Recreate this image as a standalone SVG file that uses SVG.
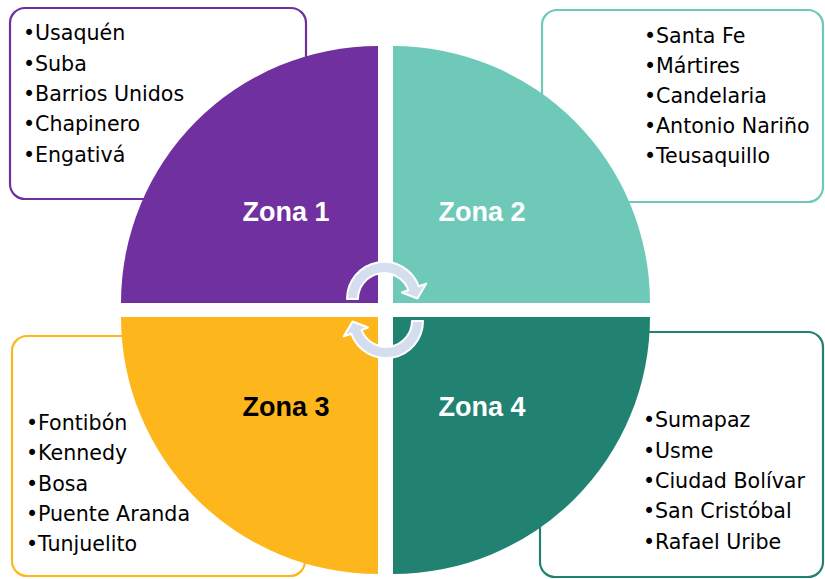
<svg xmlns="http://www.w3.org/2000/svg" width="825" height="579" viewBox="0 0 825 579">
<style>
.box{fill:#fff;stroke-width:2.2}
.lst{font-family:"Century Gothic","DejaVu Sans",sans-serif;font-size:20.6px;fill:#000}
.zona{font-family:"Liberation Sans",Arial,sans-serif;font-weight:bold;font-size:27px;text-anchor:middle}
.arr{fill:#D5DEEF;stroke:#fff;stroke-width:2;stroke-linejoin:round}
</style>
<rect width="825" height="579" fill="#fff"/>
<g id="box1"><rect class="box" x="10" y="8" width="296" height="191" rx="15" stroke="#7030A0"/>
<text class="lst"><tspan x="23" y="40">•</tspan><tspan x="35" y="40">Usaquén</tspan><tspan x="23" y="71">•</tspan><tspan x="35" y="71">Suba</tspan><tspan x="23" y="101">•</tspan><tspan x="35" y="101">Barrios Unidos</tspan><tspan x="23" y="131">•</tspan><tspan x="35" y="131">Chapinero</tspan><tspan x="23" y="162">•</tspan><tspan x="35" y="162">Engativá</tspan></text></g>
<g id="box2"><rect class="box" x="542" y="10" width="281" height="192" rx="15" stroke="#6FC9B9"/>
<text class="lst"><tspan x="644" y="43">•</tspan><tspan x="656" y="43">Santa Fe</tspan><tspan x="644" y="73">•</tspan><tspan x="656" y="73">Mártires</tspan><tspan x="644" y="103">•</tspan><tspan x="656" y="103">Candelaria</tspan><tspan x="644" y="133">•</tspan><tspan x="656" y="133">Antonio Nariño</tspan><tspan x="644" y="163">•</tspan><tspan x="656" y="163">Teusaquillo</tspan></text></g>
<g id="box3"><rect class="box" x="12" y="336" width="293" height="240" rx="15" stroke="#FDB71C"/>
<text class="lst"><tspan x="26" y="430">•</tspan><tspan x="38" y="430">Fontibón</tspan><tspan x="26" y="460">•</tspan><tspan x="38" y="460">Kennedy</tspan><tspan x="26" y="491">•</tspan><tspan x="38" y="491">Bosa</tspan><tspan x="26" y="521">•</tspan><tspan x="38" y="521">Puente Aranda</tspan><tspan x="26" y="551">•</tspan><tspan x="38" y="551">Tunjuelito</tspan></text></g>
<g id="box4"><rect class="box" x="540" y="332" width="283" height="245" rx="15" stroke="#228272"/>
<text class="lst"><tspan x="643" y="427">•</tspan><tspan x="655" y="427">Sumapaz</tspan><tspan x="643" y="458">•</tspan><tspan x="655" y="458">Usme</tspan><tspan x="643" y="488">•</tspan><tspan x="655" y="488">Ciudad Bolívar</tspan><tspan x="643" y="518">•</tspan><tspan x="655" y="518">San Cristóbal</tspan><tspan x="643" y="549">•</tspan><tspan x="655" y="549">Rafael Uribe</tspan></text></g>
<g id="zona1"><path d="M378 303 L121 303 A257 257 0 0 1 378 46 Z" fill="#7030A0"/><text class="zona" x="286" y="221" fill="#fff">Zona 1</text></g>
<g id="zona2"><path d="M393 303 L393 46 A257 257 0 0 1 650 303 Z" fill="#6FC9B9"/><text class="zona" x="482" y="221" fill="#fff">Zona 2</text></g>
<g id="zona3"><path d="M378 317 L378 574 A257 257 0 0 1 121 317 Z" fill="#FDB71C"/><text class="zona" x="286" y="416" fill="#000">Zona 3</text></g>
<g id="zona4"><path d="M393 317 L650 317 A257 257 0 0 1 393 574 Z" fill="#228272"/><text class="zona" x="482" y="416" fill="#fff">Zona 4</text></g>
<g id="connectors">
<path id="arrTop" class="arr" d="M347 299 A37 37 0 0 1 418.8 286.3 L426.3 283.6 L417.4 298.5 L401.9 292.5 L408.4 290.1 A26 26 0 0 0 358 299 Z"/>
<use href="#arrTop" transform="rotate(180 385 310)"/>
</g>
</svg>
